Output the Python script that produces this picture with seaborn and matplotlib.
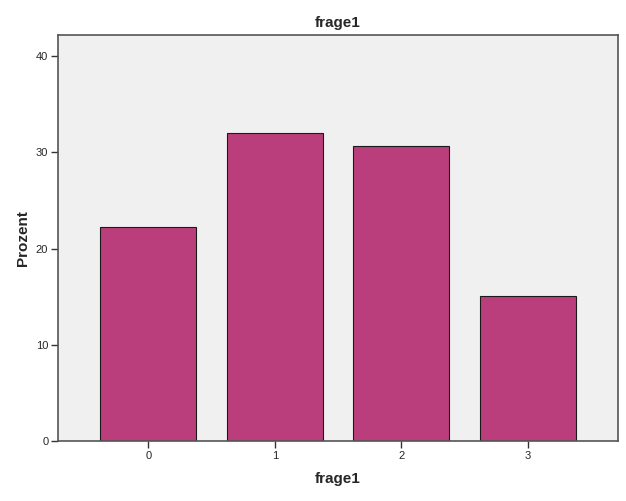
import matplotlib
matplotlib.use("Agg")
import matplotlib.pyplot as plt
import seaborn as sns
import pandas as pd

categories = ["0", "1", "2", "3"]
prozent = [22.2, 32.0, 30.7, 15.1]

df = pd.DataFrame({"frage1": categories, "Prozent": prozent})

sns.set_style("white")
plt.rcParams['font.family'] = ['Liberation Sans', 'DejaVu Sans']

fig = plt.figure(figsize=(6.26, 5.01), dpi=100)
ax = fig.add_axes([0.0927, 0.1198, 0.8946, 0.8104])
ax.set_facecolor('#F0F0F0')

sns.barplot(data=df, x="frage1", y="Prozent", color='#BA3E7C', saturation=1,
            width=0.76, edgecolor='#1a1a1a', linewidth=0.8, ax=ax)

ax.set_xlim(-0.715, 3.715)
ax.set_ylim(0, 42.2)
ax.set_yticks([0, 10, 20, 30, 40])

for s in ax.spines.values():
    s.set_color('#555555')
    s.set_linewidth(1.2)

ax.tick_params(axis='both', direction='out', length=5, width=1, color='#333333',
               labelsize=8, pad=2, left=True, bottom=True)
ax.set_title("frage1", fontsize=11, fontweight='bold', pad=6)
ax.set_xlabel("frage1", fontsize=11, fontweight='bold', labelpad=8)
ax.set_ylabel("Prozent", fontsize=11, fontweight='bold', labelpad=4)

fig.savefig("out.png", dpi=100)
